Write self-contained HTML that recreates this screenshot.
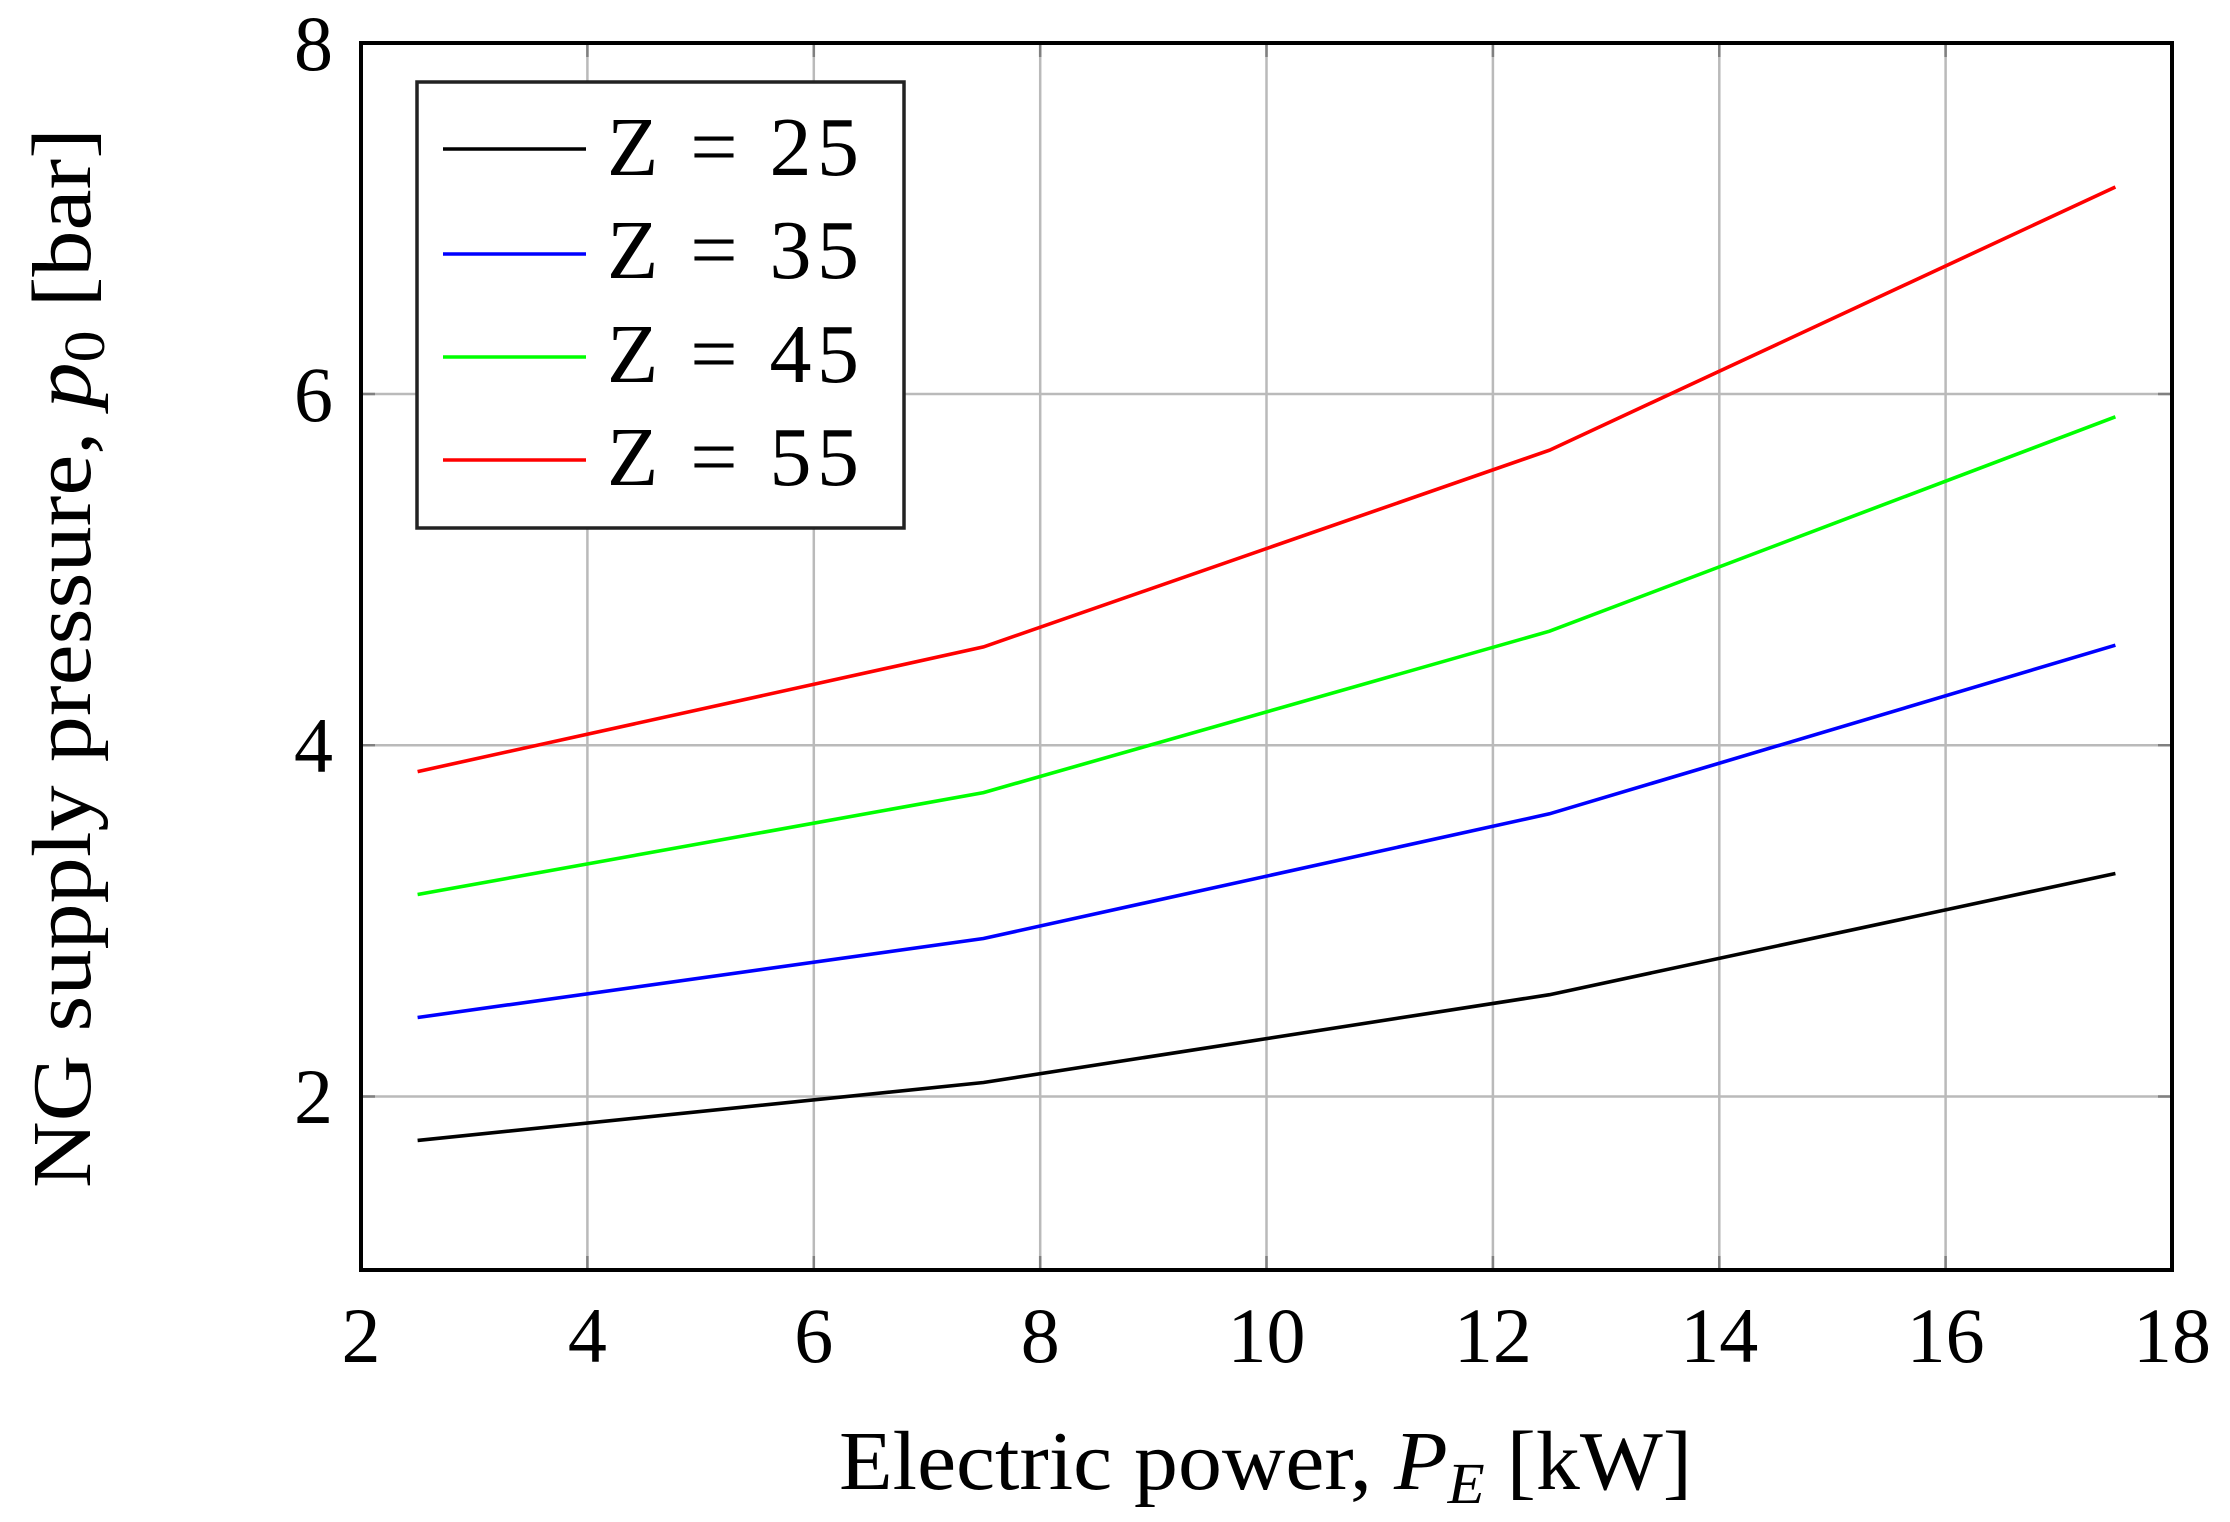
<!DOCTYPE html>
<html><head><meta charset="utf-8"><style>html,body{margin:0;padding:0;background:#fff}</style></head>
<body>
<svg width="2230" height="1517" viewBox="0 0 2230 1517" xmlns="http://www.w3.org/2000/svg" font-family="Liberation Serif, serif">
<g stroke="#bababa" stroke-width="2.5">
<line x1="587.4" y1="43" x2="587.4" y2="1270"/><line x1="813.8" y1="43" x2="813.8" y2="1270"/>
<line x1="1040.2" y1="43" x2="1040.2" y2="1270"/><line x1="1266.5" y1="43" x2="1266.5" y2="1270"/>
<line x1="1492.9" y1="43" x2="1492.9" y2="1270"/><line x1="1719.3" y1="43" x2="1719.3" y2="1270"/>
<line x1="1945.6" y1="43" x2="1945.6" y2="1270"/>
<line x1="361" y1="1096.5" x2="2172" y2="1096.5"/><line x1="361" y1="745.2" x2="2172" y2="745.2"/>
<line x1="361" y1="394" x2="2172" y2="394"/>
</g>
<g stroke="#808080" stroke-width="2.5">
<path d="M587.4 1270v-14M813.8 1270v-14M1040.2 1270v-14M1266.5 1270v-14M1492.9 1270v-14M1719.3 1270v-14M1945.6 1270v-14M587.4 43v14M813.8 43v14M1040.2 43v14M1266.5 43v14M1492.9 43v14M1719.3 43v14M1945.6 43v14M361 1096.5h14M361 745.2h14M361 394h14M2172 1096.5h-14M2172 745.2h-14M2172 394h-14"/>
</g>
<g fill="none" stroke-width="3.6">
<polyline stroke="#000" points="417.6,1140.4 983.5,1082.5 1549.5,994.7 2115.4,873.5"/>
<polyline stroke="#00f" points="417.6,1017.5 983.5,938.5 1549.5,813.8 2115.4,645.2"/>
<polyline stroke="#0f0" points="417.6,894.5 983.5,792.6 1549.5,631.2 2115.4,416.8"/>
<polyline stroke="#f00" points="417.6,771.6 983.5,646.9 1549.5,450.2 2115.4,187"/>
</g>
<rect x="361" y="43" width="1811" height="1227" fill="none" stroke="#000" stroke-width="4"/>
<rect x="417" y="82" width="487" height="446" fill="#fff" stroke="#222" stroke-width="3.5"/>
<g stroke-width="3.6">
<line x1="443" y1="149" x2="586" y2="149" stroke="#000"/>
<line x1="443" y1="254" x2="586" y2="254" stroke="#00f"/>
<line x1="443" y1="357" x2="586" y2="357" stroke="#0f0"/>
<line x1="443" y1="460" x2="586" y2="460" stroke="#f00"/>
</g>
<g font-size="84" fill="#000">
<text x="607" y="175" textLength="252" lengthAdjust="spacing">Z = 25</text>
<text x="607" y="278" textLength="252" lengthAdjust="spacing">Z = 35</text>
<text x="607" y="382" textLength="252" lengthAdjust="spacing">Z = 45</text>
<text x="607" y="485" textLength="252" lengthAdjust="spacing">Z = 55</text>
</g>
<g font-size="78" fill="#000" text-anchor="middle">
<text x="361" y="1362">2</text><text x="587.4" y="1362">4</text><text x="813.8" y="1362">6</text>
<text x="1040.2" y="1362">8</text><text x="1266.5" y="1362">10</text><text x="1492.9" y="1362">12</text>
<text x="1719.3" y="1362">14</text><text x="1945.6" y="1362">16</text><text x="2172" y="1362">18</text>
</g>
<g font-size="78" fill="#000" text-anchor="end">
<text x="333" y="1123">2</text><text x="333" y="772">4</text><text x="333" y="421">6</text><text x="333" y="70">8</text>
</g>
<text x="839" y="1489" font-size="84" textLength="853" lengthAdjust="spacingAndGlyphs">Electric power, <tspan font-style="italic">P</tspan><tspan font-style="italic" font-size="58" dy="14">E</tspan><tspan dy="-14"> [kW]</tspan></text>
<text transform="translate(90,1188) rotate(-90)" font-size="84" textLength="1060" lengthAdjust="spacingAndGlyphs">NG supply pressure, <tspan font-style="italic">p</tspan><tspan font-size="58" dy="14">0</tspan><tspan dy="-14"> [bar]</tspan></text>
</svg>
</body></html>
